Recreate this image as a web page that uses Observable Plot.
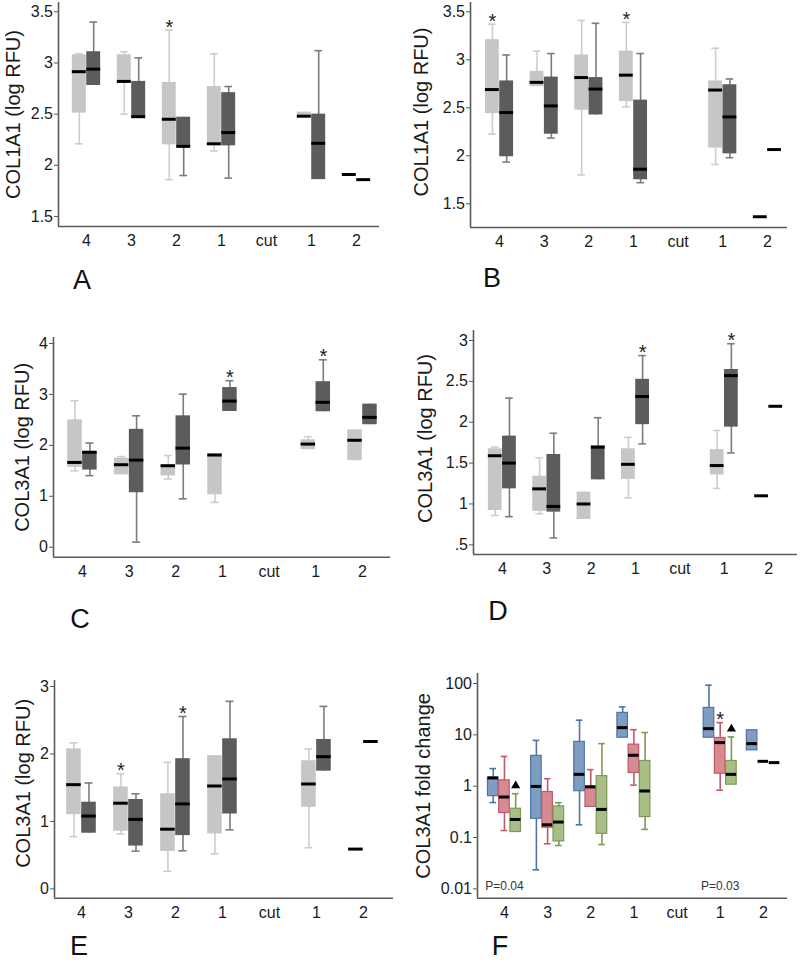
<!DOCTYPE html>
<html>
<head>
<meta charset="utf-8">
<script src="https://cdn.jsdelivr.net/npm/d3@7"></script>
<script src="https://cdn.jsdelivr.net/npm/@observablehq/plot@0.6"></script>
<style>
  html, body { margin: 0; padding: 0; background: #fff; }
  #root { position: relative; width: 800px; height: 964px; overflow: hidden; background: #fff; }
  .panel { position: absolute; }
  .letter { position: absolute; font-family: "Liberation Sans", Arial, sans-serif; font-size: 27px; color: #111; transform: translate(-50%, -50%); line-height: 1; }
</style>
</head>
<body>
<div id="root"></div>
<script>
// ---------- Data ----------
// x categories (left to right)
const categories = ["4", "3", "2", "1", "cut", "1", "2"];
// each entry: [min, q1, median, q3, max]; null = no box

// Panel A — COL1A1 (log RFU)
const aLight = [
  [2.21, 2.51, 2.915, 3.08, 3.09],
  [2.50, 2.81, 2.82, 3.08, 3.11],
  [1.86, 2.20, 2.45, 2.81, 3.32],
  [2.14, 2.20, 2.21, 2.77, 3.09],
  null,
  [2.47, 2.47, 2.48, 2.52, 2.52],
  [1.91, 1.91, 1.91, 1.91, 1.91]
];
const aDark = [
  [2.78, 2.78, 2.94, 3.11, 3.40],
  [2.46, 2.46, 2.475, 2.82, 3.05],
  [1.90, 2.18, 2.185, 2.47, 2.47],
  [1.875, 2.19, 2.32, 2.71, 2.77],
  null,
  [1.86, 1.86, 2.215, 2.50, 3.12],
  [1.86, 1.86, 1.86, 1.86, 1.86]
];
const aStars = [{group: 0, cat: 2}];

// Panel B — COL1A1 (log RFU)
const bLight = [
  [2.226, 2.44, 2.69, 3.21, 3.37],
  [2.72, 2.72, 2.765, 2.88, 3.09],
  [1.80, 2.475, 2.815, 3.05, 3.41],
  [2.51, 2.565, 2.84, 3.09, 3.39],
  null,
  [1.91, 2.08, 2.685, 2.78, 3.12],
  [1.365, 1.365, 1.365, 1.365, 1.365]
];
const bDark = [
  [1.935, 1.99, 2.45, 2.78, 3.05],
  [2.185, 2.225, 2.52, 2.82, 3.065],
  [2.425, 2.425, 2.695, 2.815, 3.38],
  [1.72, 1.75, 1.86, 2.58, 3.065],
  null,
  [1.98, 2.02, 2.405, 2.74, 2.80],
  [2.065, 2.065, 2.065, 2.065, 2.065]
];
const bStars = [{group: 0, cat: 0}, {group: 0, cat: 3}];

// Panel C — COL3A1 (log RFU)
const cLight = [
  [1.50, 1.57, 1.665, 2.50, 2.875],
  [1.42, 1.42, 1.62, 1.75, 1.78],
  [1.34, 1.40, 1.60, 1.62, 1.80],
  [0.88, 1.03, 1.81, 1.84, 1.84],
  null,
  [1.915, 1.915, 2.025, 2.11, 2.17],
  [1.70, 1.70, 2.10, 2.305, 2.305]
];
const cDark = [
  [1.405, 1.515, 1.865, 1.875, 2.045],
  [0.10, 1.07, 1.71, 2.315, 2.58],
  [0.95, 1.615, 1.945, 2.58, 3.005],
  [2.665, 2.665, 2.87, 3.135, 3.27],
  null,
  [2.66, 2.66, 2.845, 3.25, 3.68],
  [2.405, 2.405, 2.55, 2.81, 2.81]
];
const cStars = [{group: 1, cat: 3}, {group: 1, cat: 5}];

// Panel D — COL3A1 (log RFU)
const dLight = [
  [0.86, 0.92, 1.59, 1.675, 1.695],
  [0.88, 0.91, 1.185, 1.34, 1.565],
  [0.81, 0.81, 1.0, 1.145, 1.145],
  [1.075, 1.30, 1.485, 1.675, 1.815],
  null,
  [1.19, 1.355, 1.47, 1.665, 1.90],
  [1.10, 1.10, 1.10, 1.10, 1.10]
];
const dDark = [
  [0.845, 1.185, 1.50, 1.83, 2.295],
  [0.585, 0.90, 0.97, 1.605, 1.865],
  [1.295, 1.295, 1.695, 1.71, 2.055],
  [1.735, 1.97, 2.315, 2.525, 2.815],
  null,
  [1.625, 1.94, 2.57, 2.645, 2.96],
  [2.195, 2.195, 2.195, 2.195, 2.195]
];
const dStars = [{group: 1, cat: 3}, {group: 1, cat: 5}];

// Panel E — COL3A1 (log RFU)
const eLight = [
  [0.775, 1.10, 1.545, 2.075, 2.165],
  [0.815, 0.855, 1.27, 1.51, 1.705],
  [0.26, 0.555, 0.885, 1.41, 1.875],
  [0.52, 0.815, 1.525, 1.975, 1.975],
  null,
  [0.61, 1.21, 1.555, 1.90, 2.075],
  [0.59, 0.59, 0.59, 0.59, 0.59]
];
const eDark = [
  [0.825, 0.825, 1.08, 1.285, 1.57],
  [0.56, 0.635, 1.03, 1.325, 1.41],
  [0.565, 0.79, 1.26, 1.93, 2.555],
  [0.875, 1.11, 1.63, 2.225, 2.78],
  null,
  [1.745, 1.745, 1.96, 2.215, 2.705],
  [2.185, 2.185, 2.185, 2.185, 2.185]
];
const eStars = [{group: 0, cat: 1}, {group: 1, cat: 2}];

// Panel F — COL3A1 fold change (log scale)
const fBlue = [
  [0.48, 0.64, 1.45, 1.47, 2.2],
  [0.0235, 0.232, 0.99, 3.9, 7.8],
  [0.177, 0.80, 1.70, 7.3, 19.3],
  [8.8, 8.8, 13.8, 26.8, 35],
  null,
  [8.8, 8.8, 13.2, 33.5, 93],
  [5.0, 5.0, 6.75, 12.3, 12.3]
];
const fRed = [
  [0.137, 0.30, 0.615, 1.30, 3.8],
  [0.0755, 0.155, 0.177, 0.77, 1.40],
  [0.395, 0.395, 0.97, 0.99, 2.1],
  [1.05, 1.81, 4.0, 6.45, 12.6],
  null,
  [0.835, 1.75, 7.06, 8.7, 17.3],
  [3.05, 3.05, 3.05, 3.05, 3.05]
];
const fGreen = [
  [0.128, 0.128, 0.225, 0.364, 0.714],
  [0.070, 0.084, 0.20, 0.404, 0.477],
  [0.073, 0.118, 0.353, 1.57, 6.75],
  [0.144, 0.25, 0.806, 3.1, 11.1],
  null,
  [1.07, 1.07, 1.70, 3.1, 9.1],
  [2.88, 2.88, 2.88, 2.88, 2.88]
];
const fStars = [{group: 1, cat: 5}];
const fTriangles = [{group: 2, cat: 0}, {group: 2, cat: 5}];
const fPLabels = [{cat: 0, text: "P=0.04"}, {cat: 5, text: "P=0.03"}];

// ---------- Styles ----------
const grayStyle = [
  {fill: "#c6c6c6", stroke: null, whisker: "#cdcdcd"},
  {fill: "#5c5c5c", stroke: null, whisker: "#7c7c7c"}
];
const colorStyle = [
  {fill: "#7f9dc0", stroke: "#4d75a6", whisker: "#4d75a6"},
  {fill: "#d68b93", stroke: "#c0596a", whisker: "#c0596a"},
  {fill: "#a9bd86", stroke: "#7c9a55", whisker: "#7c9a55"}
];

const FONT = '"Liberation Sans", Arial, sans-serif';
const AXIS_COLOR = "#5a5a5a";
const catIdx = categories.map((_, i) => i);

function rowsOf(values, off) {
  return values.map((v, i) => v && {i, xc: i + off, min: v[0], q1: v[1], med: v[2], q3: v[3], max: v[4]}).filter(Boolean);
}

function boxMarks(groups, styles, offsets, boxW, capFrac) {
  const marks = [];
  const hw = boxW / 2, cw = boxW * capFrac / 2;
  groups.forEach((values, gi) => {
    const s = styles[gi];
    const rows = rowsOf(values, offsets[gi]);
    marks.push(Plot.ruleX(rows.filter(d => d.max > d.min), {x: "xc", y1: "min", y2: "max", stroke: s.whisker, strokeWidth: 1.6}));
    marks.push(Plot.ruleY(rows.filter(d => d.max > d.q3), {y: "max", x1: d => d.xc - cw, x2: d => d.xc + cw, stroke: s.whisker, strokeWidth: 1.6}));
    marks.push(Plot.ruleY(rows.filter(d => d.min < d.q1), {y: "min", x1: d => d.xc - cw, x2: d => d.xc + cw, stroke: s.whisker, strokeWidth: 1.6}));
    marks.push(Plot.rect(rows.filter(d => d.q3 > d.q1), {
      x1: d => d.xc - hw, x2: d => d.xc + hw, y1: "q1", y2: "q3",
      fill: s.fill, stroke: s.stroke || "none", strokeWidth: 1.2
    }));
    marks.push(Plot.ruleY(rows, {y: "med", x1: d => d.xc - hw, x2: d => d.xc + hw, stroke: "#000", strokeWidth: 3}));
  });
  return marks;
}

function starMarks(stars, groups, offsets, symbol) {
  const rows = stars.map(s => ({x: s.cat + offsets[s.group], y: groups[s.group][s.cat][4]}));
  if (symbol === "triangle") {
    return Plot.dot(rows, {x: "x", y: "y", symbol: "triangle", r: 3.4, fill: "#000", stroke: "none", dy: -8});
  }
  return Plot.text(rows, {x: "x", y: "y", text: () => "*", fontSize: 20, fill: "#222", dy: -3, lineAnchor: "middle", fontFamily: FONT});
}

function panel(cfg) {
  const marks = [
    ...boxMarks(cfg.groups, cfg.styles, cfg.offsets, cfg.boxW, cfg.capFrac),
    ...(cfg.extra || []),
    Plot.ruleX([cfg.xDomain[0]], {stroke: AXIS_COLOR, strokeWidth: 1.6}),
    Plot.ruleY([cfg.yDomain[0]], {stroke: AXIS_COLOR, strokeWidth: 1.6}),
    Plot.axisY({ticks: cfg.yTicks, tickFormat: cfg.yFormat || (d => String(d)), tickSize: 4, tickPadding: 1.5, fontSize: 16, label: null, stroke: AXIS_COLOR}),
    Plot.axisX({ticks: catIdx, tickFormat: i => categories[i], tickSize: 0, tickPadding: 8, fontSize: 16, label: null}),
    Plot.text([cfg.title], {frameAnchor: "left", text: d => d, rotate: -90, dx: cfg.titleDx, dy: cfg.titleDy || 0, fontSize: 20, fill: "#1a1a1a", textAnchor: "middle", lineAnchor: "middle", fontFamily: FONT})
  ];
  const svg = Plot.plot({
    width: cfg.width, height: cfg.height,
    marginLeft: cfg.ml, marginRight: cfg.mr, marginTop: cfg.mt, marginBottom: cfg.mb,
    x: {type: "linear", domain: cfg.xDomain, axis: null},
    y: {type: cfg.yType || "linear", domain: cfg.yDomain, axis: null},
    style: {fontFamily: FONT, fontSize: "16px", color: "#1a1a1a", background: "transparent", overflow: "visible"},
    marks
  });
  const div = document.createElement("div");
  div.className = "panel";
  div.style.left = cfg.left + "px";
  div.style.top = cfg.top + "px";
  div.appendChild(svg);
  root.appendChild(div);
  const letter = document.createElement("div");
  letter.className = "letter";
  letter.textContent = cfg.letter;
  letter.style.left = cfg.letterX + "px";
  letter.style.top = cfg.letterY + "px";
  root.appendChild(letter);
}

const root = document.getElementById("root");
const grayOff = [-0.16, 0.16];
const colorOff = [-0.26, 0, 0.26];

panel({
  left: 0, top: 0, width: 400, height: 262, ml: 58, mr: 21, mt: 2, mb: 36,
  xDomain: [-0.622, 6.511], yDomain: [1.402, 3.591], yTicks: [1.5, 2, 2.5, 3, 3.5],
  groups: [aLight, aDark], styles: grayStyle, offsets: grayOff, boxW: 0.31, capFrac: 0.55,
  extra: [starMarks(aStars, [aLight, aDark], grayOff)],
  title: "COL1A1 (log RFU)", titleDx: -45, letter: "A", letterX: 82, letterY: 280
});

panel({
  left: 400, top: 0, width: 400, height: 262, ml: 70, mr: 13, mt: 2, mb: 35,
  xDomain: [-0.65, 6.45], yDomain: [1.253, 3.597], yTicks: [1.5, 2, 2.5, 3, 3.5],
  groups: [bLight, bDark], styles: grayStyle, offsets: grayOff, boxW: 0.31, capFrac: 0.55,
  extra: [starMarks(bStars, [bLight, bDark], grayOff)],
  title: "COL1A1 (log RFU)", titleDx: -49, titleDy: -3, letter: "B", letterX: 492, letterY: 278
});

panel({
  left: 0, top: 320, width: 400, height: 270, ml: 53, mr: 10, mt: 17, mb: 33.3,
  xDomain: [-0.62, 6.6], yDomain: [-0.196, 4.118], yTicks: [0, 1, 2, 3, 4],
  groups: [cLight, cDark], styles: grayStyle, offsets: grayOff, boxW: 0.31, capFrac: 0.55,
  extra: [starMarks(cStars, [cLight, cDark], grayOff)],
  title: "COL3A1 (log RFU)", titleDx: -31, letter: "C", letterX: 80, letterY: 619
});

panel({
  left: 400, top: 320, width: 400, height: 270, ml: 73, mr: 3, mt: 10, mb: 36,
  xDomain: [-0.65, 6.65], yDomain: [0.382, 3.122], yTicks: [0.5, 1, 1.5, 2, 2.5, 3],
  yFormat: d => (d < 1 ? String(d).replace(/^0/, "") : String(d)),
  groups: [dLight, dDark], styles: grayStyle, offsets: grayOff, boxW: 0.31, capFrac: 0.55,
  extra: [starMarks(dStars, [dLight, dDark], grayOff)],
  title: "COL3A1 (log RFU)", titleDx: -48, titleDy: -4, letter: "D", letterX: 498, letterY: 611
});

panel({
  left: 0, top: 640, width: 400, height: 290, ml: 54, mr: 7, mt: 40, mb: 32.3,
  xDomain: [-0.574, 6.64], yDomain: [-0.138, 3.089], yTicks: [0, 1, 2, 3],
  groups: [eLight, eDark], styles: grayStyle, offsets: grayOff, boxW: 0.31, capFrac: 0.55,
  extra: [starMarks(eStars, [eLight, eDark], grayOff)],
  title: "COL3A1 (log RFU)", titleDx: -31, titleDy: -6, letter: "E", letterX: 79, letterY: 946
});

panel({
  left: 400, top: 640, width: 400, height: 290, ml: 77, mr: 13, mt: 33, mb: 32.3,
  xDomain: [-0.625, 6.56], yDomain: [0.00658, 156.7], yType: "log", yTicks: [0.01, 0.1, 1, 10, 100],
  groups: [fBlue, fRed, fGreen], styles: colorStyle, offsets: colorOff, boxW: 0.245, capFrac: 0.62,
  extra: [
    starMarks(fStars, [fBlue, fRed, fGreen], colorOff),
    starMarks(fTriangles, [fBlue, fRed, fGreen], colorOff, "triangle"),
    Plot.text(fPLabels, {x: "cat", frameAnchor: "bottom", text: "text", dy: -12, lineAnchor: "middle", fontSize: 12, fill: "#333", fontFamily: FONT})
  ],
  title: "COL3A1 fold change", titleDx: -54, letter: "F", letterX: 500, letterY: 946
});
</script>
</body>
</html>
